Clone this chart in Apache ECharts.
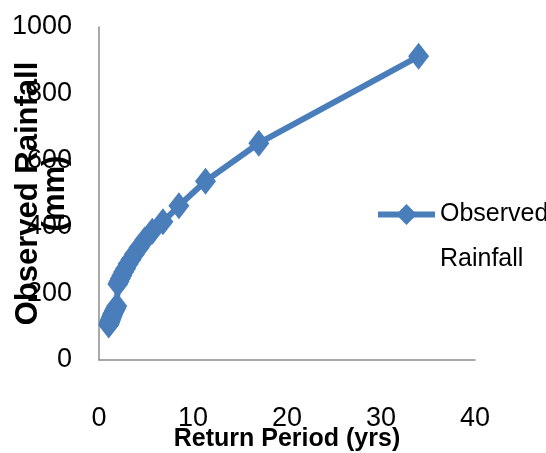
<!DOCTYPE html>
<html>
<head>
<meta charset="utf-8">
<script src="https://cdn.jsdelivr.net/npm/echarts@6/dist/echarts.min.js"></script>
<style>html,body{margin:0;padding:0;background:#fff}#c{width:546px;height:453px}</style>
</head>
<body>
<div id="c"></div>
<script>
var returnPeriod = [34, 17, 11.33, 8.5, 6.8, 5.67, 4.86, 4.25, 3.78, 3.4, 3.09, 2.83, 2.615, 2.43, 2.27, 2.125, 2.0,
  1.89, 1.79, 1.7, 1.62, 1.545, 1.478, 1.417, 1.36, 1.308, 1.259, 1.214, 1.172, 1.133, 1.097, 1.0625, 1.03];
var rainfall = [912, 651, 537, 463, 415, 387, 360, 337, 318, 302, 288, 275, 264, 254, 245, 236, 228,
  162, 156, 151, 147, 143, 139, 135, 131, 127, 123, 120, 117, 114, 111, 108, 105];
var seriesName = 'Observed Rainfall';
var xTitle = 'Return Period (yrs)';
var yTitle = 'Observed Rainfall\n(mm)';

var FONT = "'Liberation Sans', Arial, sans-serif";
var data = returnPeriod.map(function (t, i) { return [t, rainfall[i]]; });

var chart = echarts.init(document.getElementById('c'), null, {renderer: 'canvas'});
chart.setOption({
  animation: false,
  backgroundColor: '#fff',
  grid: {left: 99, right: 71, top: 27, bottom: 93, containLabel: false, outerBoundsMode: 'none'},
  xAxis: {
    type: 'value', min: 0, max: 40, interval: 10,
    name: xTitle, nameLocation: 'middle', nameGap: 67, nameMoveOverlap: false,
    nameTextStyle: {fontFamily: FONT, fontSize: 25, fontWeight: 'bold', color: '#000'},
    axisLine: {show: true, lineStyle: {color: '#8c8c8c', width: 1.5}},
    axisTick: {show: false},
    splitLine: {show: false},
    axisLabel: {fontFamily: FONT, fontSize: 27, color: '#000', margin: 45, formatter: function (v) { return String(v); }}
  },
  yAxis: {
    type: 'value', min: 0, max: 1000, interval: 200,
    name: yTitle, nameLocation: 'middle', nameGap: 30, nameRotate: 90, nameMoveOverlap: false,
    nameTextStyle: {fontFamily: FONT, fontSize: 31, fontWeight: 'bold', color: '#000', lineHeight: 27},
    axisLine: {show: true, lineStyle: {color: '#8c8c8c', width: 1.5}},
    axisTick: {show: false},
    splitLine: {show: false},
    axisLabel: {fontFamily: FONT, fontSize: 27, color: '#000', margin: 27, formatter: function (v) { return String(v); }}
  },
  legend: {
    show: true,
    left: 370, top: 142,
    orient: 'vertical',
    itemWidth: 57, itemHeight: 26, itemGap: 4,
    lineStyle: {width: 6},
    formatter: function () { return ' \nObserved\nRainfall'; },
    textStyle: {fontFamily: FONT, fontSize: 25, color: '#000', lineHeight: 45},
    data: [seriesName]
  },
  series: [{
    name: seriesName,
    type: 'line',
    data: data,
    symbol: 'diamond',
    symbolSize: [21, 27],
    showAllSymbol: true,
    lineStyle: {color: '#4a7ebb', width: 6},
    itemStyle: {color: '#4a7ebb'},
    emphasis: {disabled: true}
  }]
});
</script>
</body>
</html>
